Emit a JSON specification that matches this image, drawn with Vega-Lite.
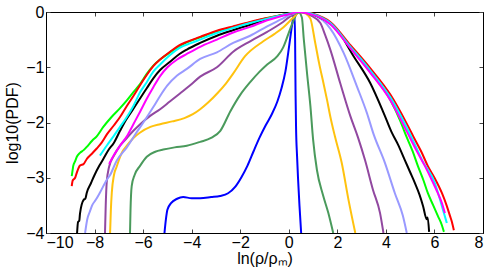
{
  "$schema": "https://vega.github.io/schema/vega-lite/v6.json",
  "width": 437,
  "height": 221,
  "autosize": "none",
  "padding": {"left": 46, "top": 12, "right": 8, "bottom": 40},
  "background": "white",
  "config": {
    "view": {"stroke": "#000", "strokeWidth": 1},
    "axis": {"labelFont": "Liberation Sans", "titleFont": "Liberation Sans", "labelColor": "#000", "titleColor": "#000", "labelFontSize": 16, "titleFontSize": 16, "titleFontWeight": "normal", "grid": false, "domainColor": "#000", "tickColor": "#444", "tickSize": -4}
  },
  "data": {"values": [
    {"s":"s01","x":-5.12,"y":-4},{"s":"s01","x":-5.06,"y":-3.75},{"s":"s01","x":-5.0,"y":-3.58},{"s":"s01","x":-4.85,"y":-3.46},{"s":"s01","x":-4.6,"y":-3.38},{"s":"s01","x":-4.35,"y":-3.35},{"s":"s01","x":-4.0,"y":-3.37},{"s":"s01","x":-3.65,"y":-3.37},{"s":"s01","x":-3.2,"y":-3.35},{"s":"s01","x":-2.83,"y":-3.33},{"s":"s01","x":-2.5,"y":-3.28},{"s":"s01","x":-2.2,"y":-3.16},{"s":"s01","x":-1.95,"y":-2.99},{"s":"s01","x":-1.7,"y":-2.78},{"s":"s01","x":-1.45,"y":-2.52},{"s":"s01","x":-1.2,"y":-2.27},{"s":"s01","x":-0.95,"y":-2.05},{"s":"s01","x":-0.7,"y":-1.85},{"s":"s01","x":-0.47,"y":-1.62},{"s":"s01","x":-0.3,"y":-1.38},{"s":"s01","x":-0.14,"y":-1.08},{"s":"s01","x":0.02,"y":-0.6},{"s":"s01","x":0.14,"y":-0.22},{"s":"s01","x":0.23,"y":0},{"s":"s01","x":0.26,"y":-0.5},{"s":"s01","x":0.28,"y":-1.5},{"s":"s01","x":0.3,"y":-2.1},{"s":"s01","x":0.34,"y":-2.6},{"s":"s01","x":0.38,"y":-3.0},{"s":"s01","x":0.44,"y":-3.5},{"s":"s01","x":0.51,"y":-4},

    {"s":"s02","x":-6.54,"y":-4},{"s":"s02","x":-6.52,"y":-3.6},{"s":"s02","x":-6.47,"y":-3.15},{"s":"s02","x":-6.35,"y":-2.95},{"s":"s02","x":-6.12,"y":-2.78},{"s":"s02","x":-5.85,"y":-2.62},{"s":"s02","x":-5.5,"y":-2.53},{"s":"s02","x":-5.17,"y":-2.49},{"s":"s02","x":-4.7,"y":-2.45},{"s":"s02","x":-4.2,"y":-2.42},{"s":"s02","x":-3.65,"y":-2.35},{"s":"s02","x":-3.2,"y":-2.28},{"s":"s02","x":-2.82,"y":-2.15},{"s":"s02","x":-2.41,"y":-1.8},{"s":"s02","x":-2.0,"y":-1.5},{"s":"s02","x":-1.59,"y":-1.27},{"s":"s02","x":-1.2,"y":-1.08},{"s":"s02","x":-0.89,"y":-0.95},{"s":"s02","x":-0.47,"y":-0.8},{"s":"s02","x":-0.23,"y":-0.64},{"s":"s02","x":-0.02,"y":-0.4},{"s":"s02","x":0.15,"y":-0.2},{"s":"s02","x":0.27,"y":-0.08},{"s":"s02","x":0.4,"y":0},{"s":"s02","x":0.54,"y":-0.1},{"s":"s02","x":0.62,"y":-0.5},{"s":"s02","x":0.75,"y":-1.1},{"s":"s02","x":0.89,"y":-1.7},{"s":"s02","x":1.0,"y":-2.3},{"s":"s02","x":1.16,"y":-2.86},{"s":"s02","x":1.4,"y":-3.3},{"s":"s02","x":1.63,"y":-3.64},{"s":"s02","x":1.83,"y":-4},

    {"s":"s03","x":-7.36,"y":-4},{"s":"s03","x":-7.33,"y":-3.6},{"s":"s03","x":-7.29,"y":-3.27},{"s":"s03","x":-7.2,"y":-2.95},{"s":"s03","x":-7.09,"y":-2.8},{"s":"s03","x":-6.88,"y":-2.55},{"s":"s03","x":-6.67,"y":-2.42},{"s":"s03","x":-6.4,"y":-2.28},{"s":"s03","x":-6.12,"y":-2.18},{"s":"s03","x":-5.7,"y":-2.08},{"s":"s03","x":-5.3,"y":-2.03},{"s":"s03","x":-4.8,"y":-1.98},{"s":"s03","x":-4.3,"y":-1.92},{"s":"s03","x":-3.95,"y":-1.85},{"s":"s03","x":-3.65,"y":-1.76},{"s":"s03","x":-3.3,"y":-1.63},{"s":"s03","x":-2.96,"y":-1.48},{"s":"s03","x":-2.6,"y":-1.3},{"s":"s03","x":-2.3,"y":-1.12},{"s":"s03","x":-1.8,"y":-0.8},{"s":"s03","x":-1.05,"y":-0.53},{"s":"s03","x":-0.6,"y":-0.4},{"s":"s03","x":-0.23,"y":-0.28},{"s":"s03","x":0.19,"y":-0.1},{"s":"s03","x":0.45,"y":0},{"s":"s03","x":0.7,"y":-0.03},{"s":"s03","x":0.89,"y":-0.12},{"s":"s03","x":1.09,"y":-0.56},{"s":"s03","x":1.25,"y":-0.93},{"s":"s03","x":1.43,"y":-1.29},{"s":"s03","x":1.58,"y":-1.6},{"s":"s03","x":1.71,"y":-1.89},{"s":"s03","x":1.9,"y":-2.25},{"s":"s03","x":2.18,"y":-2.73},{"s":"s03","x":2.46,"y":-3.4},{"s":"s03","x":2.74,"y":-4},

    {"s":"s04","x":-7.57,"y":-4},{"s":"s04","x":-7.54,"y":-3.5},{"s":"s04","x":-7.5,"y":-3.09},{"s":"s04","x":-7.4,"y":-2.8},{"s":"s04","x":-7.2,"y":-2.6},{"s":"s04","x":-6.95,"y":-2.42},{"s":"s04","x":-6.67,"y":-2.28},{"s":"s04","x":-6.4,"y":-2.15},{"s":"s04","x":-6.12,"y":-2.03},{"s":"s04","x":-5.71,"y":-1.88},{"s":"s04","x":-5.3,"y":-1.76},{"s":"s04","x":-4.9,"y":-1.62},{"s":"s04","x":-4.47,"y":-1.47},{"s":"s04","x":-4.05,"y":-1.32},{"s":"s04","x":-3.65,"y":-1.17},{"s":"s04","x":-2.96,"y":-1.0},{"s":"s04","x":-2.29,"y":-0.72},{"s":"s04","x":-1.59,"y":-0.53},{"s":"s04","x":-0.89,"y":-0.36},{"s":"s04","x":-0.3,"y":-0.2},{"s":"s04","x":0.06,"y":-0.08},{"s":"s04","x":0.5,"y":0},{"s":"s04","x":0.9,"y":-0.06},{"s":"s04","x":1.3,"y":-0.2},{"s":"s04","x":1.5,"y":-0.42},{"s":"s04","x":1.71,"y":-0.68},{"s":"s04","x":2.12,"y":-1.29},{"s":"s04","x":2.54,"y":-1.89},{"s":"s04","x":2.85,"y":-2.27},{"s":"s04","x":3.14,"y":-2.68},{"s":"s04","x":3.47,"y":-3.22},{"s":"s04","x":3.76,"y":-3.64},{"s":"s04","x":3.9,"y":-4},

    {"s":"s05","x":-8.39,"y":-4},{"s":"s05","x":-8.3,"y":-3.75},{"s":"s05","x":-8.2,"y":-3.62},{"s":"s05","x":-8.1,"y":-3.5},{"s":"s05","x":-7.95,"y":-3.4},{"s":"s05","x":-7.78,"y":-3.27},{"s":"s05","x":-7.5,"y":-3.04},{"s":"s05","x":-7.36,"y":-2.95},{"s":"s05","x":-7.1,"y":-2.7},{"s":"s05","x":-6.67,"y":-2.45},{"s":"s05","x":-6.3,"y":-2.2},{"s":"s05","x":-5.99,"y":-2.0},{"s":"s05","x":-5.58,"y":-1.72},{"s":"s05","x":-5.3,"y":-1.52},{"s":"s05","x":-5.0,"y":-1.33},{"s":"s05","x":-4.6,"y":-1.15},{"s":"s05","x":-4.2,"y":-1.03},{"s":"s05","x":-3.65,"y":-0.85},{"s":"s05","x":-2.96,"y":-0.73},{"s":"s05","x":-2.29,"y":-0.56},{"s":"s05","x":-1.59,"y":-0.43},{"s":"s05","x":-0.89,"y":-0.26},{"s":"s05","x":-0.3,"y":-0.13},{"s":"s05","x":0.06,"y":-0.05},{"s":"s05","x":0.5,"y":0},{"s":"s05","x":1.0,"y":-0.05},{"s":"s05","x":1.4,"y":-0.15},{"s":"s05","x":1.71,"y":-0.3},{"s":"s05","x":2.26,"y":-0.74},{"s":"s05","x":2.81,"y":-1.35},{"s":"s05","x":3.22,"y":-1.83},{"s":"s05","x":3.5,"y":-2.22},{"s":"s05","x":3.96,"y":-2.73},{"s":"s05","x":4.37,"y":-3.28},{"s":"s05","x":4.7,"y":-3.69},{"s":"s05","x":4.86,"y":-4},

    {"s":"s06","x":-8.72,"y":-4},{"s":"s06","x":-8.68,"y":-3.8},{"s":"s06","x":-8.63,"y":-3.78},{"s":"s06","x":-8.6,"y":-3.65},{"s":"s06","x":-8.45,"y":-3.4},{"s":"s06","x":-8.38,"y":-3.38},{"s":"s06","x":-8.32,"y":-3.27},{"s":"s06","x":-8.15,"y":-3.1},{"s":"s06","x":-8.0,"y":-2.95},{"s":"s06","x":-7.8,"y":-2.78},{"s":"s06","x":-7.64,"y":-2.66},{"s":"s06","x":-7.4,"y":-2.48},{"s":"s06","x":-7.22,"y":-2.38},{"s":"s06","x":-6.95,"y":-2.15},{"s":"s06","x":-6.7,"y":-1.95},{"s":"s06","x":-6.4,"y":-1.75},{"s":"s06","x":-6.12,"y":-1.56},{"s":"s06","x":-5.85,"y":-1.38},{"s":"s06","x":-5.58,"y":-1.2},{"s":"s06","x":-5.3,"y":-1.05},{"s":"s06","x":-4.89,"y":-0.9},{"s":"s06","x":-4.5,"y":-0.76},{"s":"s06","x":-4.2,"y":-0.68},{"s":"s06","x":-3.65,"y":-0.56},{"s":"s06","x":-2.96,"y":-0.43},{"s":"s06","x":-2.3,"y":-0.33},{"s":"s06","x":-1.59,"y":-0.23},{"s":"s06","x":-0.89,"y":-0.13},{"s":"s06","x":0,"y":-0.03},{"s":"s06","x":0.45,"y":0},{"s":"s06","x":1.2,"y":-0.08},{"s":"s06","x":1.99,"y":-0.32},{"s":"s06","x":2.67,"y":-0.8},{"s":"s06","x":3.36,"y":-1.29},{"s":"s06","x":3.91,"y":-1.83},{"s":"s06","x":4.24,"y":-2.18},{"s":"s06","x":4.5,"y":-2.4},{"s":"s06","x":4.78,"y":-2.68},{"s":"s06","x":5.0,"y":-2.9},{"s":"s06","x":5.2,"y":-3.1},{"s":"s06","x":5.38,"y":-3.3},{"s":"s06","x":5.53,"y":-3.51},{"s":"s06","x":5.68,"y":-3.75},{"s":"s06","x":5.72,"y":-3.72},{"s":"s06","x":5.78,"y":-3.98},

    {"s":"s07","x":-8.94,"y":-2.97},{"s":"s07","x":-8.9,"y":-2.85},{"s":"s07","x":-8.88,"y":-2.79},{"s":"s07","x":-8.8,"y":-2.7},{"s":"s07","x":-8.73,"y":-2.62},{"s":"s07","x":-8.6,"y":-2.55},{"s":"s07","x":-8.45,"y":-2.5},{"s":"s07","x":-8.32,"y":-2.44},{"s":"s07","x":-8.1,"y":-2.33},{"s":"s07","x":-7.91,"y":-2.25},{"s":"s07","x":-7.64,"y":-2.08},{"s":"s07","x":-7.3,"y":-1.9},{"s":"s07","x":-6.95,"y":-1.74},{"s":"s07","x":-6.67,"y":-1.6},{"s":"s07","x":-6.4,"y":-1.45},{"s":"s07","x":-6.12,"y":-1.3},{"s":"s07","x":-5.85,"y":-1.12},{"s":"s07","x":-5.58,"y":-0.97},{"s":"s07","x":-5.3,"y":-0.86},{"s":"s07","x":-4.89,"y":-0.73},{"s":"s07","x":-4.5,"y":-0.62},{"s":"s07","x":-4.2,"y":-0.55},{"s":"s07","x":-3.65,"y":-0.46},{"s":"s07","x":-2.96,"y":-0.35},{"s":"s07","x":-2.29,"y":-0.27},{"s":"s07","x":-1.59,"y":-0.19},{"s":"s07","x":-0.89,"y":-0.11},{"s":"s07","x":0,"y":-0.03},{"s":"s07","x":0.6,"y":0},{"s":"s07","x":1.0,"y":-0.04},{"s":"s07","x":1.71,"y":-0.21},{"s":"s07","x":2.54,"y":-0.65},{"s":"s07","x":3.36,"y":-1.09},{"s":"s07","x":4.19,"y":-1.6},{"s":"s07","x":4.6,"y":-1.98},{"s":"s07","x":4.87,"y":-2.28},{"s":"s07","x":5.1,"y":-2.52},{"s":"s07","x":5.32,"y":-2.79},{"s":"s07","x":5.55,"y":-3.05},{"s":"s07","x":5.73,"y":-3.28},{"s":"s07","x":5.95,"y":-3.5},{"s":"s07","x":6.14,"y":-3.69},{"s":"s07","x":6.3,"y":-3.85},{"s":"s07","x":6.39,"y":-3.98},

    {"s":"s08","x":-8.94,"y":-3.15},{"s":"s08","x":-8.9,"y":-3.05},{"s":"s08","x":-8.8,"y":-3.0},{"s":"s08","x":-8.74,"y":-2.92},{"s":"s08","x":-8.6,"y":-2.78},{"s":"s08","x":-8.45,"y":-2.75},{"s":"s08","x":-8.32,"y":-2.66},{"s":"s08","x":-8.1,"y":-2.56},{"s":"s08","x":-7.91,"y":-2.47},{"s":"s08","x":-7.7,"y":-2.36},{"s":"s08","x":-7.5,"y":-2.22},{"s":"s08","x":-7.2,"y":-2.05},{"s":"s08","x":-6.95,"y":-1.9},{"s":"s08","x":-6.67,"y":-1.7},{"s":"s08","x":-6.4,"y":-1.52},{"s":"s08","x":-6.12,"y":-1.32},{"s":"s08","x":-5.85,"y":-1.14},{"s":"s08","x":-5.58,"y":-0.98},{"s":"s08","x":-5.3,"y":-0.86},{"s":"s08","x":-4.89,"y":-0.72},{"s":"s08","x":-4.5,"y":-0.6},{"s":"s08","x":-4.2,"y":-0.54},{"s":"s08","x":-3.65,"y":-0.45},{"s":"s08","x":-2.96,"y":-0.34},{"s":"s08","x":-2.29,"y":-0.26},{"s":"s08","x":-1.59,"y":-0.18},{"s":"s08","x":-0.89,"y":-0.11},{"s":"s08","x":0,"y":-0.03},{"s":"s08","x":0.6,"y":0},{"s":"s08","x":1.0,"y":-0.03},{"s":"s08","x":1.71,"y":-0.18},{"s":"s08","x":2.54,"y":-0.6},{"s":"s08","x":3.36,"y":-1.02},{"s":"s08","x":4.19,"y":-1.5},{"s":"s08","x":4.87,"y":-2.03},{"s":"s08","x":5.15,"y":-2.27},{"s":"s08","x":5.45,"y":-2.52},{"s":"s08","x":5.73,"y":-2.79},{"s":"s08","x":6.0,"y":-3.0},{"s":"s08","x":6.31,"y":-3.28},{"s":"s08","x":6.5,"y":-3.5},{"s":"s08","x":6.64,"y":-3.69},{"s":"s08","x":6.72,"y":-3.8},{"s":"s08","x":6.8,"y":-3.95},

    {"s":"s09","x":-7.78,"y":-2.6},{"s":"s09","x":-7.5,"y":-2.42},{"s":"s09","x":-7.22,"y":-2.25},{"s":"s09","x":-6.95,"y":-2.08},{"s":"s09","x":-6.67,"y":-1.9},{"s":"s09","x":-6.4,"y":-1.7},{"s":"s09","x":-6.12,"y":-1.45},{"s":"s09","x":-5.85,"y":-1.27},{"s":"s09","x":-5.58,"y":-1.08},{"s":"s09","x":-5.3,"y":-0.95},{"s":"s09","x":-4.89,"y":-0.78},{"s":"s09","x":-4.5,"y":-0.65},{"s":"s09","x":-4.0,"y":-0.56},{"s":"s09","x":-3.65,"y":-0.5},{"s":"s09","x":-2.96,"y":-0.38},{"s":"s09","x":-2.29,"y":-0.29},{"s":"s09","x":-1.59,"y":-0.2},{"s":"s09","x":-0.89,"y":-0.12},{"s":"s09","x":0,"y":-0.03},{"s":"s09","x":0.55,"y":0},{"s":"s09","x":1.0,"y":-0.04},{"s":"s09","x":1.71,"y":-0.2},{"s":"s09","x":2.54,"y":-0.63},{"s":"s09","x":3.36,"y":-1.06},{"s":"s09","x":4.19,"y":-1.55},{"s":"s09","x":4.87,"y":-2.1},{"s":"s09","x":5.2,"y":-2.4},{"s":"s09","x":5.49,"y":-2.68},{"s":"s09","x":6.02,"y":-3.1},{"s":"s09","x":6.2,"y":-3.35},{"s":"s09","x":6.35,"y":-3.58},{"s":"s09","x":6.51,"y":-3.82},

    {"s":"s10","x":-7.4,"y":-2.75},{"s":"s10","x":-7.22,"y":-2.6},{"s":"s10","x":-6.95,"y":-2.42},{"s":"s10","x":-6.67,"y":-2.25},{"s":"s10","x":-6.4,"y":-2.03},{"s":"s10","x":-6.12,"y":-1.8},{"s":"s10","x":-5.85,"y":-1.57},{"s":"s10","x":-5.58,"y":-1.36},{"s":"s10","x":-5.3,"y":-1.16},{"s":"s10","x":-5.0,"y":-1.0},{"s":"s10","x":-4.6,"y":-0.86},{"s":"s10","x":-4.2,"y":-0.76},{"s":"s10","x":-3.65,"y":-0.63},{"s":"s10","x":-2.96,"y":-0.5},{"s":"s10","x":-2.29,"y":-0.37},{"s":"s10","x":-1.59,"y":-0.27},{"s":"s10","x":-0.89,"y":-0.15},{"s":"s10","x":0,"y":-0.04},{"s":"s10","x":0.4,"y":0},{"s":"s10","x":0.9,"y":-0.04},{"s":"s10","x":1.3,"y":-0.1},{"s":"s10","x":1.71,"y":-0.22},{"s":"s10","x":2.54,"y":-0.66},{"s":"s10","x":3.36,"y":-1.1},{"s":"s10","x":4.19,"y":-1.6},{"s":"s10","x":4.87,"y":-2.17},{"s":"s10","x":5.25,"y":-2.5},{"s":"s10","x":5.61,"y":-2.79},{"s":"s10","x":5.9,"y":-3.05},{"s":"s10","x":6.14,"y":-3.28},{"s":"s10","x":6.3,"y":-3.45},{"s":"s10","x":6.43,"y":-3.64}
  ]},
  "layer": [
    {
      "mark": {"type": "line", "strokeWidth": 2, "clip": true, "interpolate": "monotone"},
      "encoding": {
        "x": {"field": "x", "type": "quantitative", "scale": {"domain": [-10, 8], "nice": false, "zero": false},
              "axis": {"orient": "bottom", "values": [-10,-8,-6,-4,-2,0,2,4,6,8], "title": "ln(ρ/ρₘ)", "labelPadding": 5, "titleX": 218.5, "titleY": 30, "titleBaseline": "alphabetic", "titleAnchor": "middle"}},
        "y": {"field": "y", "type": "quantitative", "scale": {"domain": [-4, 0], "nice": false, "zero": false},
              "axis": {"orient": "left", "values": [-4,-3,-2,-1,0], "title": "log10(PDF)", "labelPadding": 6, "titleX": -34, "titleY": 110.5, "titleBaseline": "middle", "titleAngle": -90}},
        "color": {"field": "s", "type": "nominal", "legend": null,
                  "scale": {"domain": ["s01","s02","s03","s04","s05","s06","s07","s08","s09","s10"],
                            "range": ["#0000ff","#4a9a5c","#ffc20e","#9148a0","#9999ff","#000000","#00ff00","#ff0000","#00ffff","#ff00ff"]}}
      }
    },
    {
      "mark": {"type": "line", "strokeOpacity": 0},
      "encoding": {
        "x": {"field": "x", "type": "quantitative", "axis": {"orient": "top", "values": [-10,-8,-6,-4,-2,0,2,4,6,8], "labels": false, "title": null}},
        "y": {"field": "y", "type": "quantitative", "axis": {"orient": "right", "values": [-4,-3,-2,-1,0], "labels": false, "title": null}},
        "detail": {"field": "s"}
      }
    }
  ],
  "resolve": {"axis": {"x": "independent", "y": "independent"}}
}
